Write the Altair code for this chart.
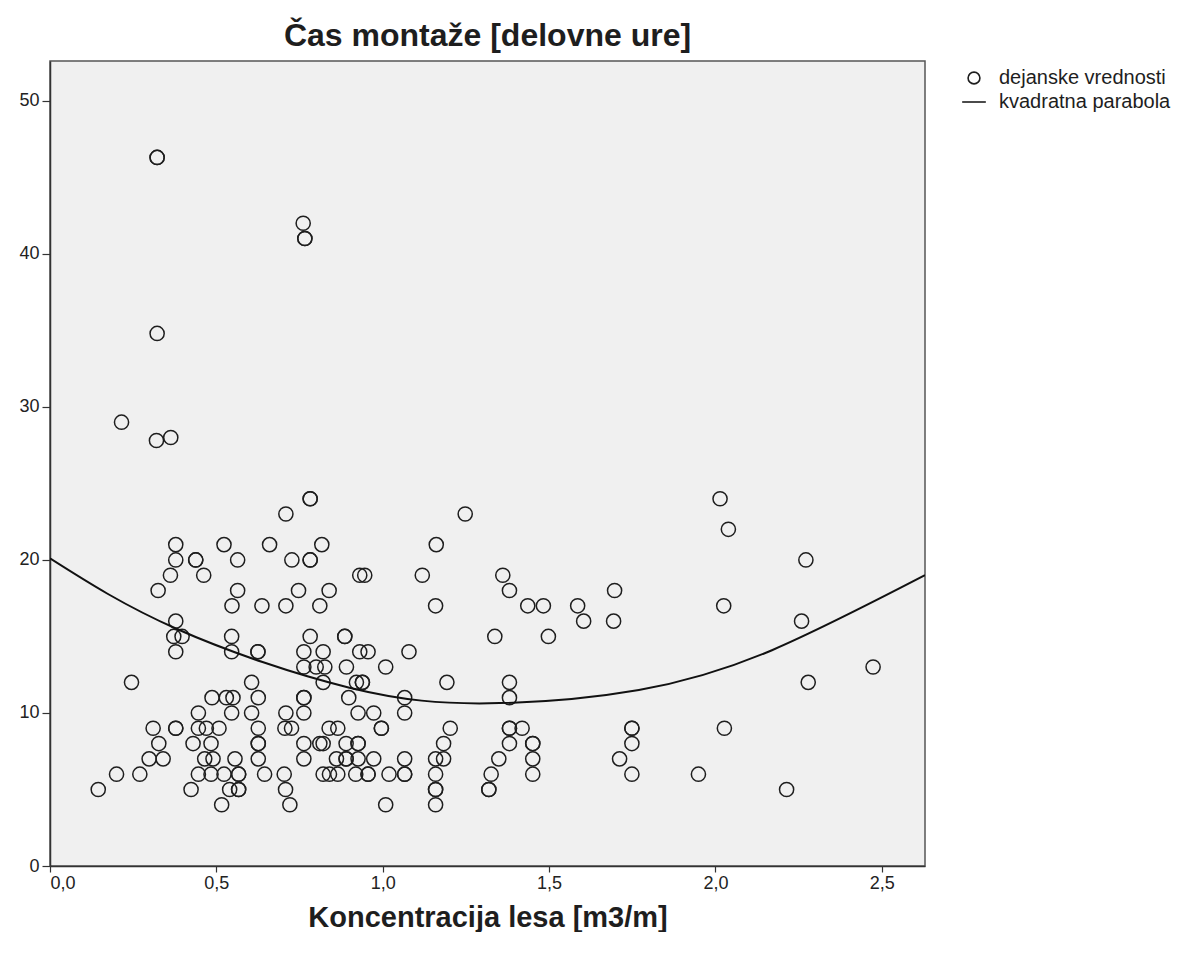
import altair as alt
import pandas as pd

# Observed values: x = wood concentration [m3/m], y = assembly time [work hours]
conc = [
    0.322, 0.322, 0.322, 0.761, 0.766, 0.766,
    0.215, 0.320, 0.363,
    0.782, 0.782, 0.709, 1.248, 0.378, 0.523, 0.660, 0.817, 1.161,
    0.378, 0.438, 0.438, 0.564, 0.727, 0.782, 0.782,
    0.362, 0.462, 0.931, 0.946, 1.119, 1.361,
    0.325, 0.564, 0.747, 0.839, 1.381, 1.697,
    0.547, 0.637, 0.709, 0.811, 1.159, 1.436, 1.483, 1.586,
    0.378, 1.604, 1.694,
    0.372, 0.397, 0.546, 0.782, 0.886, 0.886, 1.337, 1.498,
    0.378, 0.546, 0.625, 0.625, 0.763, 0.821, 0.931, 0.956, 1.079,
    0.763, 0.800, 0.826, 0.891, 1.009,
    0.245, 0.606, 0.821, 0.921, 0.939, 0.939, 1.193, 1.381,
    0.487, 0.530, 0.550, 0.626, 0.763, 0.763, 0.898, 1.066, 1.381,
    0.446, 0.546, 0.606, 0.709, 0.763, 0.926, 0.973, 1.066,
    0.310, 0.378, 0.378, 0.446, 0.470, 0.508, 0.626, 0.706, 0.726, 0.839, 0.865,
    0.996, 0.996, 1.203, 1.381, 1.381, 1.419, 1.749, 1.749,
    0.327, 0.430, 0.484, 0.626, 0.626, 0.763, 0.811, 0.821, 0.890,
    0.926, 0.926, 1.183, 1.381, 1.451, 1.451, 1.749,
    0.298, 0.340, 0.465, 0.490, 0.556, 0.626, 0.763, 0.861, 0.890, 0.890,
    0.926, 0.973, 1.066, 1.159, 1.183, 1.349, 1.451, 1.712,
    0.200, 0.270, 0.446, 0.484, 0.523, 0.567, 0.567, 0.645, 0.704, 0.821, 0.840, 0.865,
    0.919, 0.956, 0.956, 1.019, 1.066, 1.066, 1.159, 1.326, 1.451, 1.749,
    0.145, 0.424, 0.540, 0.567, 0.567, 0.708, 1.159, 1.159, 1.319, 1.319,
    0.516, 0.721, 1.009, 1.159,
    2.014, 2.039, 2.272, 2.025, 2.259, 2.474, 2.279, 2.027, 1.949, 2.214,
]
hours = [
    46.3, 46.3, 34.8, 42, 41, 41,
    29, 27.8, 28,
    24, 24, 23, 23, 21, 21, 21, 21, 21,
    20, 20, 20, 20, 20, 20, 20,
    19, 19, 19, 19, 19, 19,
    18, 18, 18, 18, 18, 18,
    17, 17, 17, 17, 17, 17, 17, 17,
    16, 16, 16,
    15, 15, 15, 15, 15, 15, 15, 15,
    14, 14, 14, 14, 14, 14, 14, 14, 14,
    13, 13, 13, 13, 13,
    12, 12, 12, 12, 12, 12, 12, 12,
    11, 11, 11, 11, 11, 11, 11, 11, 11,
    10, 10, 10, 10, 10, 10, 10, 10,
    9, 9, 9, 9, 9, 9, 9, 9, 9, 9, 9,
    9, 9, 9, 9, 9, 9, 9, 9,
    8, 8, 8, 8, 8, 8, 8, 8, 8,
    8, 8, 8, 8, 8, 8, 8,
    7, 7, 7, 7, 7, 7, 7, 7, 7, 7,
    7, 7, 7, 7, 7, 7, 7, 7,
    6, 6, 6, 6, 6, 6, 6, 6, 6, 6, 6, 6,
    6, 6, 6, 6, 6, 6, 6, 6, 6, 6,
    5, 5, 5, 5, 5, 5, 5, 5, 5, 5,
    4, 4, 4, 4,
    24, 22, 20, 17, 16, 13, 12, 9, 6, 5,
]

# Quadratic fit curve
curve_x = [0.0, 0.38, 0.90, 1.32, 1.77, 2.17, 2.63]
curve_y = [20.1, 15.5, 11.65, 10.63, 11.5, 14.1, 19.0]

series_names = ["dejanske vrednosti", "kvadratna parabola"]
x_ticks = [0.0, 0.5, 1.0, 1.5, 2.0, 2.5]
y_ticks = [0, 10, 20, 30, 40, 50]

df = pd.DataFrame({"x": conc, "y": hours, "series": series_names[0]})
df_curve = pd.DataFrame({"x": curve_x, "y": curve_y})

FONT = "Liberation Sans"
INK = "#1e1e1e"

xscale = alt.Scale(domain=[0, 2.63], nice=False, zero=False)
yscale = alt.Scale(domain=[0, 52.6], nice=False)

points = alt.Chart(df).mark_point(
    filled=False, size=200, strokeWidth=1.5, color=INK, opacity=1, clip=True
).encode(
    x=alt.X("x:Q", scale=xscale,
            axis=alt.Axis(values=x_ticks, title="Koncentracija lesa [m3/m]",
                          labelExpr="replace(format(datum.value, '.1f'), '.', ',')")),
    y=alt.Y("y:Q", scale=yscale,
            axis=alt.Axis(values=y_ticks, title=None, format="d",
                          tickSize=8, labelPadding=3)),
    shape=alt.Shape(
        "series:N",
        scale=alt.Scale(domain=series_names, range=["circle", "M-2,0L2,0"]),
        legend=alt.Legend(
            title=None, orient="none", legendX=914, legendY=7,
            labelFontSize=20, labelFont=FONT, labelColor=INK, labelLimit=400,
            symbolSize=140, symbolStrokeWidth=1.6, symbolStrokeColor=INK,
            symbolFillColor="transparent", labelOffset=15, rowPadding=4,
        ),
    ),
)

curve = alt.Chart(df_curve).mark_line(
    color="#111", strokeWidth=2, clip=True, interpolate="natural"
).encode(
    x=alt.X("x:Q", scale=xscale),
    y=alt.Y("y:Q", scale=yscale),
)

chart = alt.layer(points, curve).properties(
    width=875,
    height=805,
    padding={"left": 0, "top": 12, "right": 0, "bottom": 0},
    title=alt.TitleParams(
        "Čas montaže [delovne ure]", fontSize=32, font=FONT, fontWeight="bold",
        color=INK, anchor="middle", offset=8,
    ),
).configure_view(
    fill="#f0f0f0", stroke="#555555", strokeWidth=1.5
).configure_axis(
    labelFont=FONT, labelFontSize=18, labelColor="#222",
    titleFont=FONT, titleFontSize=29, titleFontWeight="bold", titleColor=INK,
    domainColor="#333", domainWidth=1.5, tickColor="#333", tickWidth=1.2,
    tickSize=6, grid=False, labelPadding=2,
).configure_axisY(
    minExtent=42, maxExtent=42,
).configure_axisX(
    titlePadding=11,
)

chart.save("out.html", embed_options={"renderer": "svg", "actions": False})
